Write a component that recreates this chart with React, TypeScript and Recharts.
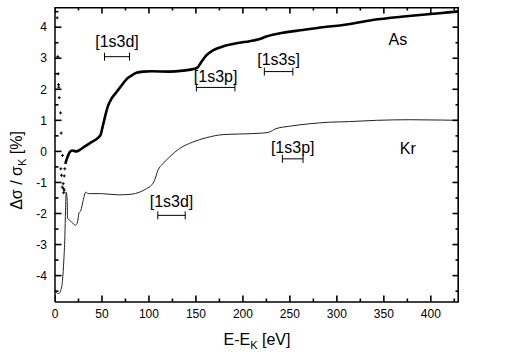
import { ComposedChart, Line, Scatter, XAxis, YAxis, ErrorBar, Label } from "recharts";

const FONT = '"Liberation Sans", Arial, sans-serif';

// As: scattered first points just above the edge
const asDotEnergy = [2.3, 3.0, 3.4, 3.8, 4.0, 4.5, 5.9, 6.6, 8.0, 10.4, 6.2, 6.9, 9.8, 8.7, 7.7, 9.0, 9.8, 9.2];
const asDotValue = [4.3, 3.05, 2.5, 2.15, 2.07, 1.73, 1.24, 0.59, -0.13, -0.56, -0.56, -0.77, -0.79, -1.04, -1.15, -1.2, -1.25, -1.33];

// As: dense part (drawn as thick trace)
const asEnergy = [
    11, 12.5, 14, 15.8, 18.3, 22.9, 26.4, 31.7, 38.8, 46, 48.8, 50.2, 52, 54, 56.6, 60, 65.5, 70.8, 76, 81.4, 86.7,
    93.9, 102.7, 122, 136, 148.5, 152, 155.6, 161, 168, 178.6, 193, 207, 216, 225, 242.5, 263.8, 285, 305, 338,
    373.8, 409, 430,
];
const asValue = [
    -0.4, -0.25, -0.13, -0.02, 0.03, 0.0, 0.05, 0.16, 0.3, 0.44, 0.55, 0.73, 0.96, 1.21, 1.48, 1.69, 1.91, 2.12, 2.32,
    2.44, 2.53, 2.57, 2.58, 2.57, 2.6, 2.66, 2.71, 2.87, 3.09, 3.25, 3.38, 3.48, 3.55, 3.6, 3.7, 3.82, 3.91, 4.0,
    4.06, 4.23, 4.35, 4.45, 4.51,
];

// Kr
const krEnergy = [
    0, 1.6, 4, 6.2, 8, 9.4, 10.5, 11.2, 11.9, 13, 13.3, 15.8, 19.4, 21.8, 24, 25.4, 27.5, 30, 32.8, 35.3, 38.1, 49.5,
    67.3, 81.4, 90.3, 97.4, 102.7, 106, 109.5, 114.8, 121.9, 132.5, 146.7, 161, 178.6, 196.4, 221, 228, 235, 249.6,
    271, 292, 313.5, 342, 377, 410, 430,
];
const krValue = [
    -4.47, -4.55, -4.58, -4.47, -4.15, -3.5, -2.75, -1.9, -1.31, -1.58, -2.16, -2.22, -2.33, -2.38, -2.27, -2.0, -1.9,
    -1.58, -1.31, -1.36, -1.36, -1.36, -1.4, -1.38, -1.31, -1.2, -1.09, -0.93, -0.61, -0.4, -0.18, 0.09, 0.3, 0.44,
    0.54, 0.56, 0.59, 0.62, 0.73, 0.81, 0.89, 0.94, 0.96, 1.0, 1.02, 1.01, 1.0,
];

// shell-opening markers
const noteLabels = ["[1s3d]", "[1s3p]", "[1s3s]", "[1s3d]", "[1s3p]"];
const noteCenter = [66, 171, 238, 124, 253];
const noteHalfWidth = [13.3, 20.5, 15.2, 14.6, 11];
const noteBarValue = [3.05, 2.06, 2.57, -2.06, -0.24];
const noteTextValue = [3.53, 2.41, 2.95, -1.61, 0.13];

const seriesNames = ["As", "Kr"];
const seriesNameEnergy = [365, 375.5];
const seriesNameValue = [3.61, 0.11];

const X_DOMAIN = [0, 430];
const Y_DOMAIN = [-4.85, 4.65];
const xMajor = [0, 50, 100, 150, 200, 250, 300, 350, 400];
const xMinor = [25, 75, 125, 175, 225, 275, 325, 375, 425];
const yMajor = [-4, -3, -2, -1, 0, 1, 2, 3, 4];
const yMinor = [-4.5, -3.5, -2.5, -1.5, -0.5, 0.5, 1.5, 2.5, 3.5, 4.5];

const zip = (es: number[], vs: number[]) => es.map((e, i) => ({ e, v: vs[i] }));

const asDots = zip(asDotEnergy, asDotValue);
const asLine = zip(asEnergy, asValue);
const krLine = zip(krEnergy, krValue);
const noteBars = noteCenter.map((e, i) => ({ e, v: noteBarValue[i], err: noteHalfWidth[i] }));
const noteTexts = noteCenter.map((e, i) => ({ e, v: noteTextValue[i], label: noteLabels[i] }));
const nameTexts = seriesNames.map((label, i) => ({ e: seriesNameEnergy[i], v: seriesNameValue[i], label }));

// frame sides that have no axis of their own
const rightEdge = zip([X_DOMAIN[1], X_DOMAIN[1]], Y_DOMAIN);
const topEdge = zip(X_DOMAIN, [Y_DOMAIN[1], Y_DOMAIN[1]]);

// inward tick marks on all four sides
const xTickPts = [...xMajor.map((e) => ({ e, len: 6.5 })), ...xMinor.map((e) => ({ e, len: 3.5 }))];
const yTickPts = [...yMajor.map((v) => ({ v, len: 6.5 })), ...yMinor.map((v) => ({ v, len: 3.5 }))];
const bottomTicks = xTickPts.map((t) => ({ ...t, v: Y_DOMAIN[0] }));
const topTicks = xTickPts.map((t) => ({ ...t, v: Y_DOMAIN[1] }));
const leftTicks = yTickPts.map((t) => ({ ...t, e: X_DOMAIN[0] }));
const rightTicks = yTickPts.map((t) => ({ ...t, e: X_DOMAIN[1] }));

const AXIS = { stroke: "#000", strokeWidth: 1.5 };
const TICKTEXT = { fontSize: 12, fontFamily: FONT, fill: "#000" };

const tickShape = (dx: number, dy: number) => ({ cx, cy, payload }: any) => (
    <path
        d={`M${cx},${cy}l${dx * payload.len},${dy * payload.len}`}
        stroke="#000"
        strokeWidth={1.6}
        fill="none"
    />
);

const Plus = ({ cx, cy }: any) => (
    <path d={`M${cx - 1.5},${cy}h3M${cx},${cy - 1.5}v3`} stroke="#000" strokeWidth={1} />
);

const TextMark = (size: number) => ({ cx, cy, payload }: any) => (
    <text x={cx} y={cy} dy="0.35em" textAnchor="middle" fontSize={size} fontFamily={FONT} fill="#000">
        {payload.label}
    </text>
);

const XTitle = ({ viewBox }: any) => (
    <text
        x={viewBox.x + viewBox.width / 2}
        y={viewBox.y + 43}
        textAnchor="middle"
        fontSize={16}
        fontFamily={FONT}
        fill="#000"
    >
        E-E<tspan dy={4} fontSize={11}>K</tspan>
        <tspan dy={-4}> [eV]</tspan>
    </text>
);

const YTitle = ({ viewBox }: any) => {
    const bx = viewBox.x + 22;
    const cy = viewBox.y + viewBox.height / 2 + 16;
    return (
        <text
            transform={`translate(${bx},${cy}) rotate(-90)`}
            x={0}
            y={0}
            textAnchor="middle"
            fontSize={16}
            fontFamily={FONT}
            fill="#000"
        >
            Δσ / σ<tspan dy={4} fontSize={11}>K</tspan>
            <tspan dy={-4}> [%]</tspan>
        </text>
    );
};

const noDot = () => <g />;

export default function App() {
    return (
        <div style={{ position: "absolute", left: 0, top: 0, width: 524, height: 352, background: "#fff" }}>
            <ComposedChart width={524} height={352} margin={{ top: 7, right: 65, bottom: 20, left: 0 }}>
                <XAxis
                    dataKey="e"
                    type="number"
                    domain={X_DOMAIN}
                    allowDataOverflow
                    ticks={xMajor}
                    interval={0}
                    height={30}
                    tickSize={0}
                    tickMargin={7}
                    tickLine={false}
                    tick={TICKTEXT}
                    axisLine={AXIS}
                >
                    <Label content={<XTitle />} />
                </XAxis>
                <YAxis
                    dataKey="v"
                    type="number"
                    domain={Y_DOMAIN}
                    allowDataOverflow
                    ticks={yMajor}
                    interval={0}
                    width={55}
                    tickSize={0}
                    tickMargin={8}
                    tickLine={false}
                    tick={TICKTEXT}
                    axisLine={AXIS}
                >
                    <Label content={<YTitle />} />
                </YAxis>

                <Line
                    data={rightEdge}
                    dataKey="v"
                    type="linear"
                    stroke="#000"
                    strokeWidth={3.2}
                    dot={false}
                    activeDot={false}
                    isAnimationActive={false}
                />
                <Line
                    data={topEdge}
                    dataKey="v"
                    type="linear"
                    stroke="#000"
                    strokeWidth={3.2}
                    dot={false}
                    activeDot={false}
                    isAnimationActive={false}
                />

                <Scatter data={bottomTicks} dataKey="v" shape={tickShape(0, -1)} isAnimationActive={false} />
                <Scatter data={topTicks} dataKey="v" shape={tickShape(0, 1)} isAnimationActive={false} />
                <Scatter data={leftTicks} dataKey="v" shape={tickShape(1, 0)} isAnimationActive={false} />
                <Scatter data={rightTicks} dataKey="v" shape={tickShape(-1, 0)} isAnimationActive={false} />

                <Line
                    data={krLine}
                    dataKey="v"
                    type="monotone"
                    stroke="#222"
                    strokeWidth={1}
                    dot={false}
                    activeDot={false}
                    isAnimationActive={false}
                />
                <Line
                    data={asLine}
                    dataKey="v"
                    type="monotone"
                    stroke="#000"
                    strokeWidth={2.6}
                    dot={false}
                    activeDot={false}
                    isAnimationActive={false}
                />
                <Scatter data={asDots} dataKey="v" shape={<Plus />} isAnimationActive={false} />
                <Scatter data={noteBars} dataKey="v" shape={noDot} isAnimationActive={false}>
                    <ErrorBar dataKey="err" direction="x" width={4} stroke="#000" strokeWidth={1} />
                </Scatter>
                <Scatter data={noteTexts} dataKey="v" shape={TextMark(16)} isAnimationActive={false} />
                <Scatter data={nameTexts} dataKey="v" shape={TextMark(16)} isAnimationActive={false} />
            </ComposedChart>
        </div>
    );
}
